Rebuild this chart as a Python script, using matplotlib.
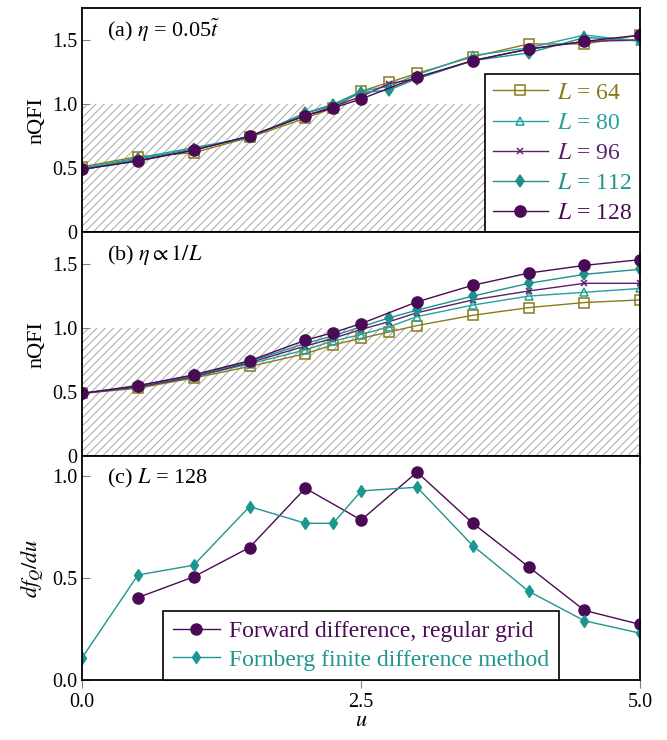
import matplotlib
matplotlib.use("Agg")
import matplotlib.pyplot as plt
import numpy as np

plt.rcParams['font.family'] = ['Liberation Serif', 'DejaVu Serif']
plt.rcParams['mathtext.fontset'] = 'stix'
plt.rcParams['hatch.linewidth'] = 0.7

# data
u = [0, 0.5, 1.0, 1.5, 2.0, 2.25, 2.5, 2.75, 3.0, 3.5, 4.0, 4.5, 5.0]
nan = np.nan

# panel (a): eta = 0.05 t
a_L64 = [0.51, 0.59, 0.62, 0.74, 0.89, 0.97, 1.10, 1.17, 1.24, 1.37, 1.47, 1.47, 1.54]
a_L80 = [0.50, 0.58, 0.66, 0.74, 0.93, 1.00, 1.10, 1.14, 1.23, 1.38, 1.44, 1.54, 1.49]
a_L96 = [0.49, 0.56, 0.64, 0.75, 0.91, 0.98, 1.06, 1.16, 1.20, 1.34, 1.43, 1.49, 1.50]
a_L112 = [0.49, 0.57, 0.65, 0.74, 0.93, 0.99, 1.09, 1.11, 1.20, 1.34, 1.40, 1.52, 1.50]
a_L128 = [0.49, 0.555, 0.64, 0.75, 0.91, 0.97, 1.04, nan, 1.21, 1.34, 1.43, 1.49, 1.54]

# panel (b): eta ~ 1/L
b_L64 = [0.49, 0.53, 0.61, 0.70, 0.80, 0.87, 0.92, 0.97, 1.02, 1.10, 1.16, 1.20, 1.22]
b_L80 = [0.49, 0.54, 0.62, 0.72, 0.83, 0.90, 0.95, 1.01, 1.09, 1.18, 1.25, 1.28, 1.31]
b_L96 = [0.49, 0.54, 0.62, 0.73, 0.86, 0.92, 0.99, 1.05, 1.12, 1.22, 1.29, 1.35, 1.35]
b_L112 = [0.49, 0.55, 0.63, 0.74, 0.88, 0.94, 1.01, 1.08, 1.14, 1.25, 1.35, 1.42, 1.46]
b_L128 = [0.49, 0.55, 0.635, 0.745, 0.905, 0.965, 1.035, nan, 1.205, 1.335, 1.43, 1.49, 1.535]

# panel (c): derivative, L = 128
u_fwd = [0.5, 1.0, 1.5, 2.0, 2.5, 3.0, 3.5, 4.0, 4.5, 5.0]
d_fwd = [0.405, 0.507, 0.651, 0.942, 0.786, 1.021, 0.77, 0.556, 0.342, 0.273]
u_fb = [0, 0.5, 1.0, 1.5, 2.0, 2.25, 2.5, 3.0, 3.5, 4.0, 4.5, 5.0]
d_fb = [0.109, 0.516, 0.564, 0.852, 0.77, 0.77, 0.929, 0.947, 0.66, 0.436, 0.291, 0.23]

sizes = [64, 80, 96, 112, 128]
colors = ['#8a7a19', '#26a29c', '#5c1f6b', '#1d918c', '#4b0a55']
markers = ['s', '^', 'x', 'd', 'o']
msizes = [7, 6, 5, 6, 8]
mfills = ['none', 'none', 'full', 'full', 'full']

fig = plt.figure(figsize=(6.67, 7.4), dpi=100)
gs = fig.add_gridspec(3, 1, left=0.123, right=0.96, top=0.989, bottom=0.081, hspace=0)
axes = [fig.add_subplot(gs[i]) for i in range(3)]


def style(ax):
    ax.set_xlim(0, 5)
    ax.set_xticks([0, 2.5, 5.0])
    ax.tick_params(axis='x', direction='out', length=6, color='0.5', labelsize=14.5)
    ax.tick_params(axis='y', direction='in', length=6, color='0.5', labelsize=14.5)
    for s in ax.spines.values():
        s.set_linewidth(1.3)


for ax, data, title in [(axes[0], [a_L64, a_L80, a_L96, a_L112, a_L128], r'(a) $\eta$ = 0.05$\tilde{t}$'),
                        (axes[1], [b_L64, b_L80, b_L96, b_L112, b_L128], r'(b) $\eta \propto 1/L$')]:
    style(ax)
    ax.fill_between([0, 5], 0, 1.0, facecolor='none', edgecolor='0.65', hatch='////', linewidth=0, zorder=0)
    for L, y, c, m, ms, mf in zip(sizes, data, colors, markers, msizes, mfills):
        y = np.array(y)
        ok = ~np.isnan(y)
        ax.plot(np.array(u)[ok], y[ok], color=c, marker=m, ms=ms, lw=1.0,
                fillstyle=mf, mew=1.1, label=r'$L$ = %d' % L)
    ax.set_ylim(0, 1.75)
    ax.set_yticks([0, 0.5, 1.0, 1.5])
    ax.set_yticklabels(['0', '0.5', '1.0', '1.5'])
    ax.set_xticklabels([])
    ax.set_ylabel('nQFI', fontsize=16)
    ax.text(0.045, 0.9, title, transform=ax.transAxes, fontsize=16, va='center')

leg = axes[0].legend(loc='lower right', borderaxespad=0, fancybox=False, edgecolor='black',
                     framealpha=1, fontsize=17, labelcolor='linecolor', handlelength=2.3,
                     handletextpad=0.4, labelspacing=0.36, borderpad=0.35)
leg.get_frame().set_linewidth(1.2)

ax = axes[2]
style(ax)
ax.plot(u_fwd, d_fwd, color='#4b0a55', marker='o', ms=8, lw=1.0, label='Forward difference, regular grid')
ax.plot(u_fb, d_fb, color='#1d968f', marker='d', ms=6, lw=1.0, label='Fornberg finite difference method')
ax.set_ylim(0, 1.1)
ax.set_yticks([0, 0.5, 1.0])
ax.set_yticklabels(['0.0', '0.5', '1.0'])
ax.set_xticklabels(['0.0', '2.5', '5.0'])
ax.set_ylabel(r'$df_Q/du$', fontsize=16)
ax.set_xlabel(r'$u$', fontsize=16, labelpad=0)
ax.text(0.045, 0.9, r'(c) $L$ = 128', transform=ax.transAxes, fontsize=16, va='center')
leg = ax.legend(loc='lower center', borderaxespad=0, fancybox=False, edgecolor='black',
                framealpha=1, fontsize=17, labelcolor='linecolor', handlelength=2.0,
                handletextpad=0.4, labelspacing=0.3, borderpad=0.4)
leg.get_frame().set_linewidth(1.2)

fig.align_ylabels(axes)
plt.savefig('out.png', dpi=100)
